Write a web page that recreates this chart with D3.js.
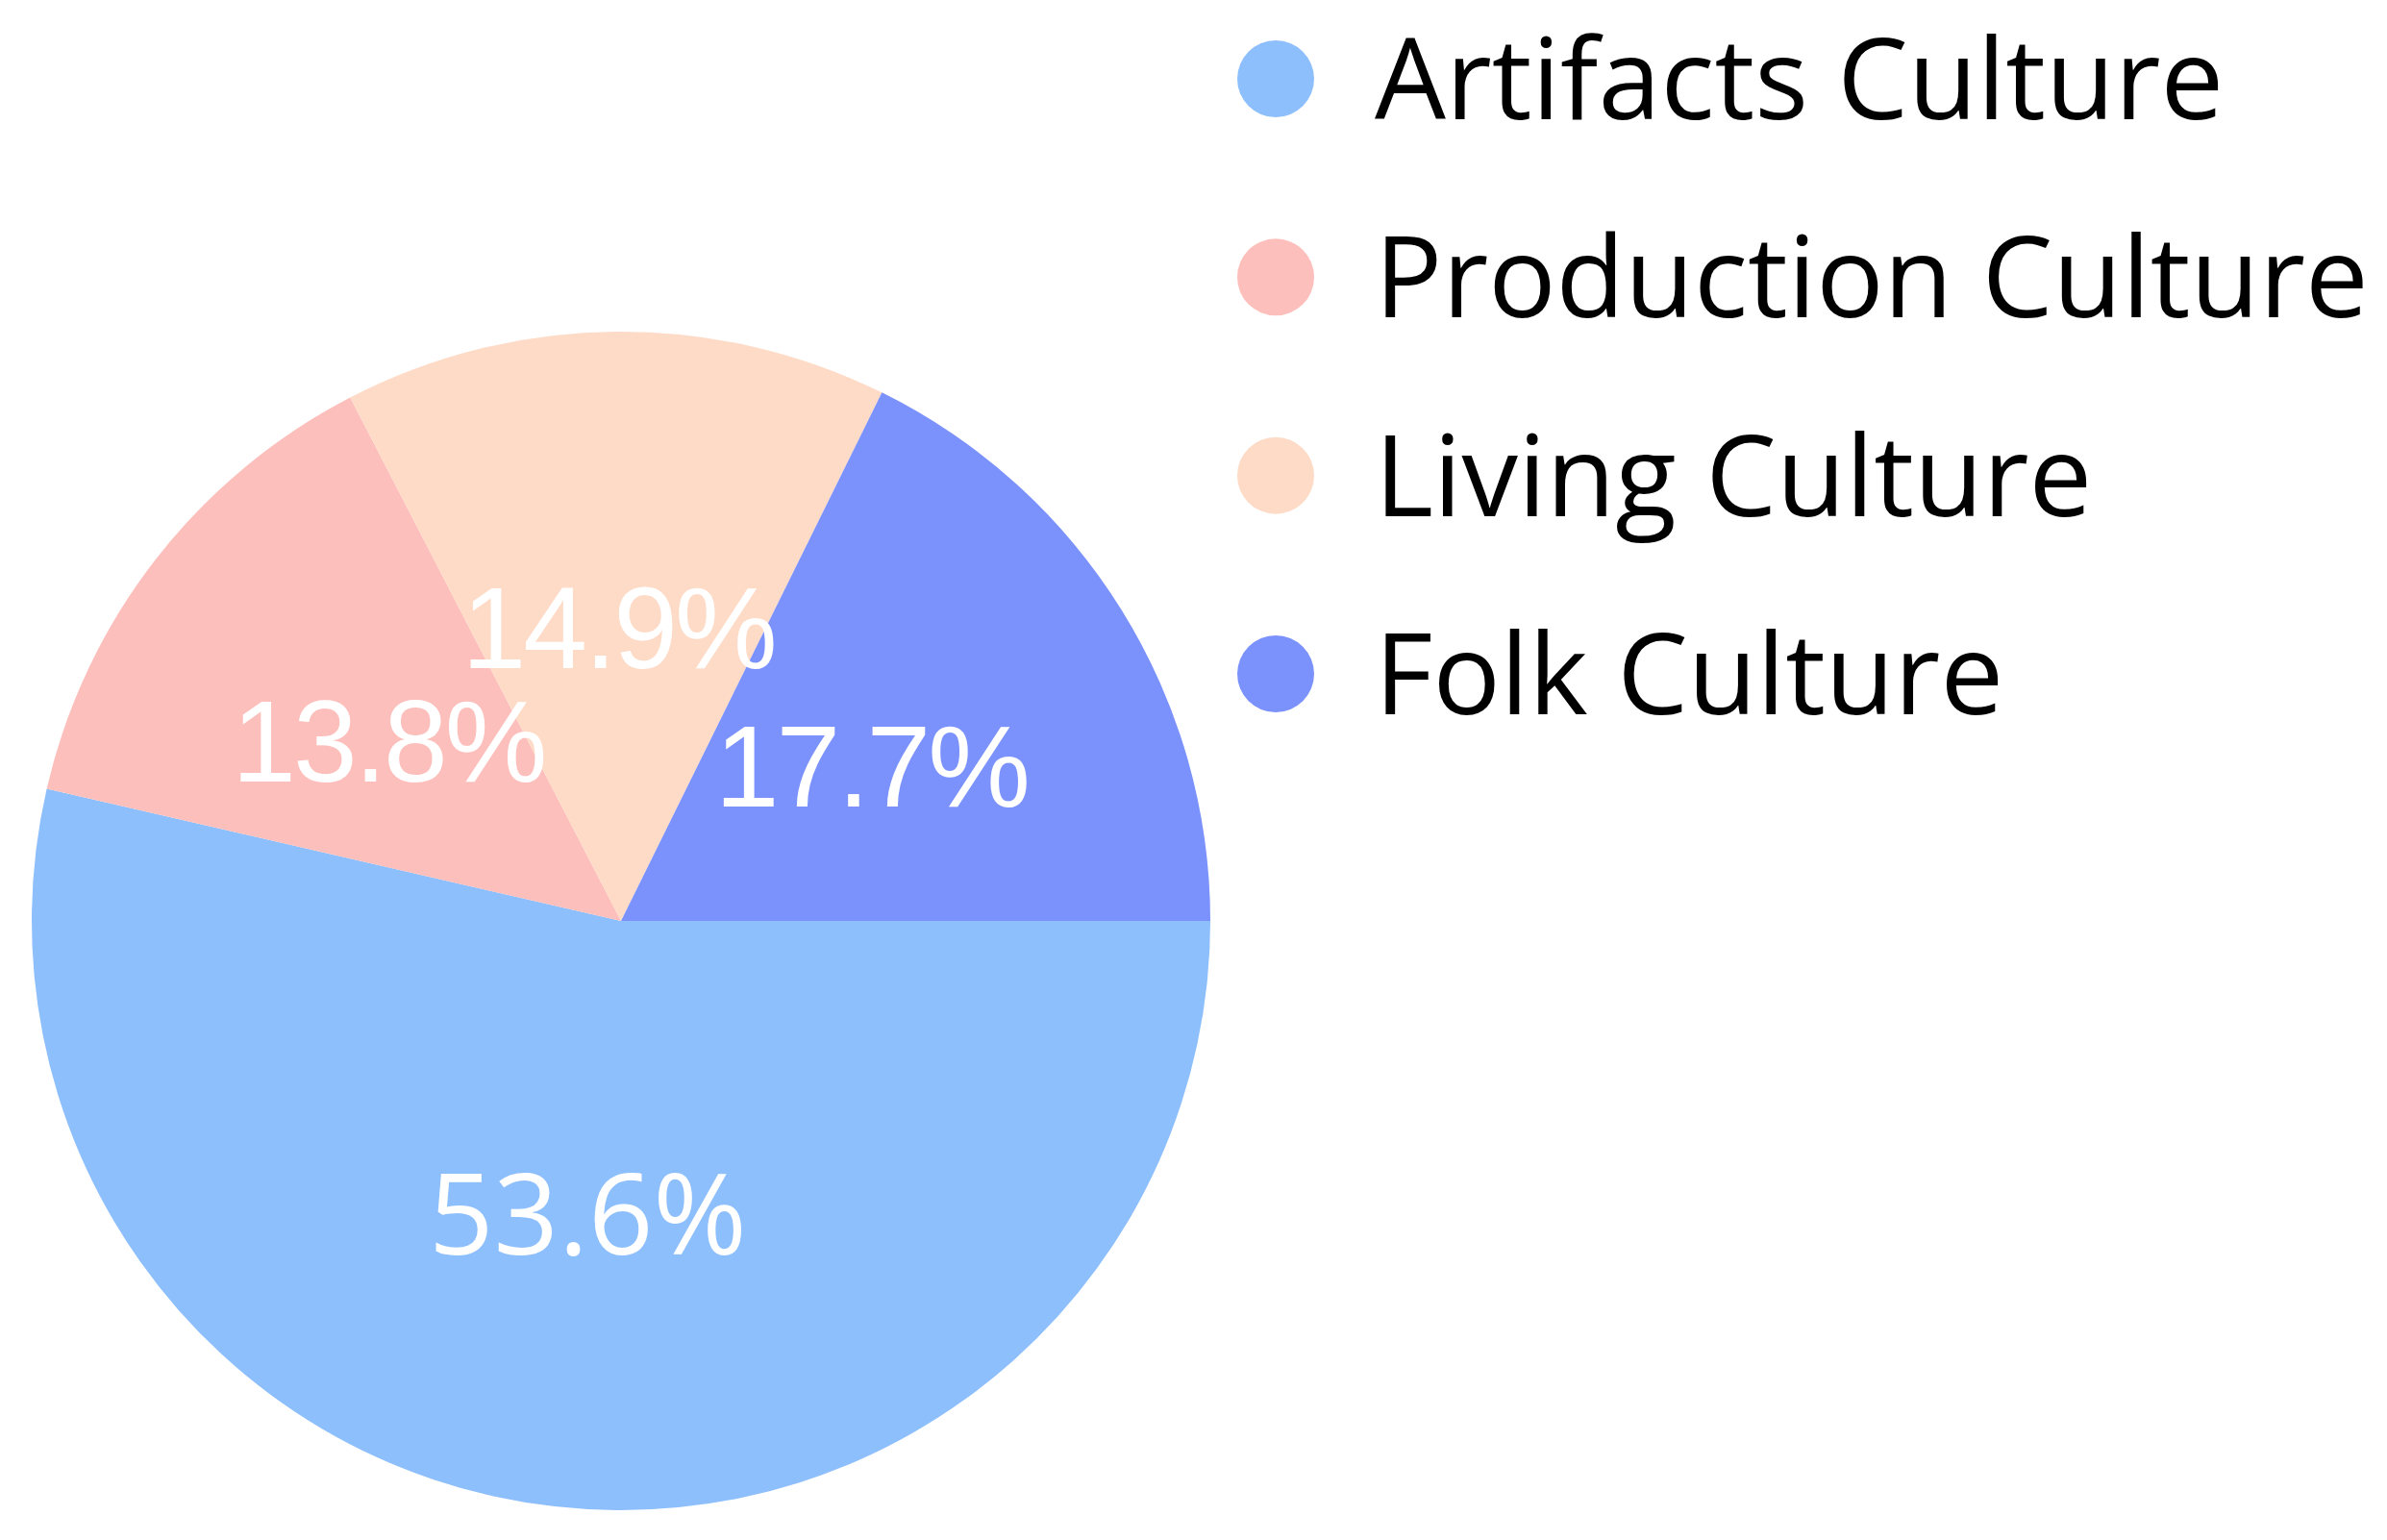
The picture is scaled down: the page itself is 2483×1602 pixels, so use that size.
<!DOCTYPE html>
<html>
<head>
<meta charset="utf-8">
<script src="https://cdn.jsdelivr.net/npm/d3@7"></script>
<style>
  html, body { margin: 0; padding: 0; background: #fff; }
  svg { display: block; }
</style>
</head>
<body>
<script>
// Constant
const w = 2483;
const h = 1602;

// Data
const categories = ['Artifacts Culture', 'Production Culture', 'Living Culture', 'Folk Culture'];
const shares = [53.6, 13.8, 14.9, 17.7];
const colors = ['#8ebffd', '#fdbfbb', '#fedbc7', '#7b92fd'];

// Create the svg canvas
var svg = d3.select('body')
  .append('svg')
  .attr('width', w)
  .attr('height', h);

var cx = 646, cy = 958, radius = 613;

var pie = d3.pie()
  .sort(null)
  .value((d) => d)
  .startAngle(Math.PI / 2)
  .endAngle(Math.PI / 2 + 2 * Math.PI);

var arc = d3.arc().innerRadius(0).outerRadius(radius);
var color = d3.scaleOrdinal().domain(categories).range(colors);

var g = svg.append('g').attr('transform', 'translate(' + cx + ',' + cy + ')');
var arcs = pie(shares);

// slices
g.selectAll('path')
  .data(arcs)
  .enter()
  .append('path')
  .attr('d', arc)
  .style('fill', (d, i) => color(categories[i]));

// labels on slices (the big one uses the sans face, the small ones an arial-like one)
g.selectAll('text')
  .data(arcs)
  .enter()
  .append('text')
  .attr('x', (d) => arc.centroid(d)[0])
  .attr('y', (d) => arc.centroid(d)[1])
  .attr('text-anchor', 'middle')
  .attr('dy', '0.36em')
  .style('font-family', (d, i) => i === 0 ? '"Open Sans", "Noto Sans", sans-serif' : '"Liberation Sans", Arial, sans-serif')
  .style('font-size', (d, i) => i === 0 ? '118px' : '120px')
  .style('letter-spacing', (d, i) => i === 0 ? '0px' : '-3px')
  .style('fill', '#fff')
  .text((d) => d.data.toFixed(1) + '%');

// legend
var ly = d3.scalePoint().domain(categories).range([82, 701]);

var legend = svg.append('g');

legend.selectAll('circle')
  .data(categories)
  .enter()
  .append('circle')
  .attr('cx', 1327)
  .attr('cy', (d) => ly(d))
  .attr('r', 40)
  .style('fill', (d) => color(d));

legend.selectAll('text')
  .data(categories)
  .enter()
  .append('text')
  .attr('x', 1430)
  .attr('y', (d) => ly(d))
  .attr('dy', '0.36em')
  .style('font-family', '"Open Sans", "Noto Sans", sans-serif')
  .style('font-size', '117px')
  .style('fill', '#000')
  .text((d) => d);
</script>
</body>
</html>
